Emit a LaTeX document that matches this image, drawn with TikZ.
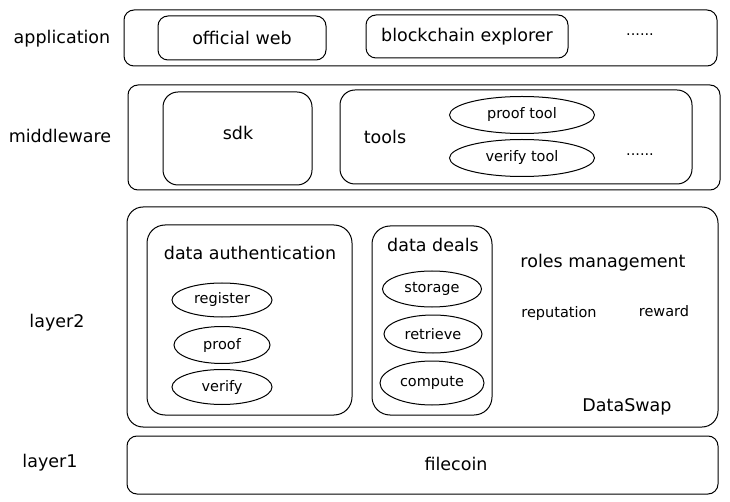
\documentclass[tikz,border=0pt]{standalone}
\usepackage{fontspec}
\setmainfont{DejaVu Sans}
\usetikzlibrary{shapes.geometric}
\begin{document}
\begin{tikzpicture}[x=1pt,y=-1pt,
  box/.style={draw,rounded corners=10pt,line width=1pt},
  oval/.style={draw,ellipse,line width=1pt,inner sep=0pt},
  lab/.style={font=\fontsize{17.5}{20}\selectfont},
  small/.style={font=\fontsize{14.5}{17}\selectfont}]
\useasboundingbox (0,0) rectangle (730,502);
% labels
\node[lab] (lapp) at (62,39) {application};
\node[lab] (lmid) at (60,136) {middleware};
\node[lab] (ll2) at (57,323) {layer2};
\node[lab] (ll1) at (50,463) {layer1};
% application
\draw[box] (124,10) rectangle (717,66);
\draw[box] (158,16) rectangle (326,60);
\node[lab] (ow) at (242,38) {official web};
\draw[box] (366,15) rectangle (568,58);
\node[lab] (be) at (467,37) {blockchain explorer};
\node[small] (d1) at (640,35) {......};
% middleware
\draw[box] (128,85) rectangle (720,190);
\draw[box,rounded corners=15pt] (163,92) rectangle (312,185);
\node[lab] (sdk) at (238,133) {sdk};
\draw[box,rounded corners=15pt] (340,90) rectangle (692,184);
\node[lab] (tools) at (385,137) {tools};
\node[oval,small,minimum width=145pt,minimum height=37pt] (pt) at (522,115) {proof tool};
\node[oval,small,minimum width=145pt,minimum height=37pt] (vt) at (522,158) {verify tool};
\node[small] (d2) at (640,155) {......};
% layer2
\draw[box,rounded corners=16pt] (127,207) rectangle (718,427);
\draw[box,rounded corners=18pt] (147,225) rectangle (352,415);
\node[lab] (da) at (250,253) {data authentication};
\node[oval,small,minimum width=100pt,minimum height=34pt] (reg) at (222,300) {register};
\node[oval,small,minimum width=96pt,minimum height=37pt] (pr) at (222,345) {proof};
\node[oval,small,minimum width=100pt,minimum height=35pt] (ve) at (222,387) {verify};
\draw[box,rounded corners=18pt] (372,226) rectangle (492,415);
\node[lab] (dd) at (433,245) {data deals};
\node[oval,small,minimum width=99pt,minimum height=36pt] (st) at (432,289) {storage};
\node[oval,small,minimum width=98pt,minimum height=38pt] (re) at (433,334) {retrieve};
\node[oval,small,minimum width=104pt,minimum height=44pt] (co) at (432,383) {compute};
\node[lab] (rm) at (603,263) {roles management};
\node[small] (rep) at (559,313) {reputation};
\node[small] (rew) at (664,311) {reward};
\node[lab] (ds) at (627,407) {DataSwap};
% layer1
\draw[box] (127,436) rectangle (718,494);
\node[lab] (fc) at (456,464) {filecoin};
\end{tikzpicture}
\end{document}
